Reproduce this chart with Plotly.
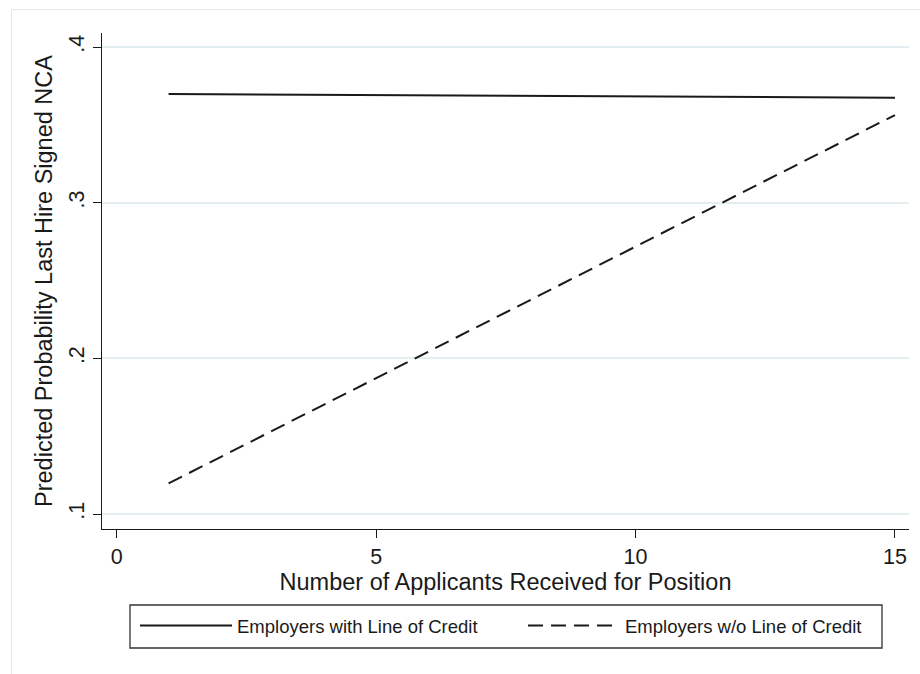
import plotly.graph_objects as go

# Predicted probabilities from the model at the ends of the applicant range
applicants = [1, 15]
with_credit = [0.3698, 0.3674]
without_credit = [0.1197, 0.3563]

series_names = ["Employers with Line of Credit", "Employers w/o Line of Credit"]

x_ticks = [0, 5, 10, 15]
x_tick_text = ["0", "5", "10", "15"]
y_ticks = [0.1, 0.2, 0.3, 0.4]
y_tick_text = [".1", ".2", ".3", ".4"]

FONT = "Liberation Sans, Arial, sans-serif"
INK = "#1a1a1a"
GRID = "#e4edf0"

W, H = 920, 674
ML, MR, MT, MB = 102, 11, 33, 145
PW, PH = W - ML - MR, H - MT - MB


def px(x):
    return (x - ML) / PW


def py(y):
    return (H - MB - y) / PH


fig = go.Figure()
fig.add_trace(go.Scatter(
    x=applicants, y=with_credit, mode="lines", name=series_names[0],
    line=dict(color=INK, width=2),
))
fig.add_trace(go.Scatter(
    x=applicants, y=without_credit, mode="lines", name=series_names[1],
    line=dict(color=INK, width=2, dash="15px,8px"),
))

fig.update_layout(
    width=W, height=H,
    margin=dict(l=ML, r=MR, t=MT, b=MB, autoexpand=False),
    paper_bgcolor="white", plot_bgcolor="white",
    font=dict(family=FONT, color=INK),
    showlegend=True,
    legend=dict(
        orientation="h",
        x=px(135), xanchor="left",
        y=py(626), yanchor="middle",
        entrywidth=281, entrywidthmode="pixels",
        itemwidth=92,
        font=dict(size=18.5, family=FONT, color=INK),
        bgcolor="rgba(0,0,0,0)",
        borderwidth=0,
    ),
    shapes=[
        # outer graph region frame
        dict(type="rect", xref="paper", yref="paper",
             x0=px(11.5), x1=px(930), y0=py(690), y1=py(9.5),
             line=dict(color="#e2eaed", width=1), layer="below"),
        # legend box
        dict(type="rect", xref="paper", yref="paper",
             x0=px(130), x1=px(882), y0=py(648), y1=py(605),
             line=dict(color="#333333", width=1.3)),
    ],
)

fig.update_xaxes(
    range=[-0.283, 15.27],
    tickvals=x_ticks, ticktext=x_tick_text,
    ticks="outside", ticklen=8, tickwidth=1.3, tickcolor=INK,
    showline=True, linecolor=INK, linewidth=1.3,
    showgrid=False, zeroline=False,
    tickfont=dict(size=21.5, family=FONT, color=INK),
    title=dict(text="Number of Applicants Received for Position",
               font=dict(size=23.5, family=FONT, color=INK), standoff=1),
)
fig.update_yaxes(
    range=[0.0904, 0.409],
    tickvals=y_ticks, ticktext=y_tick_text, tickangle=-90,
    ticks="outside", ticklen=8, tickwidth=1.3, tickcolor=INK,
    showline=True, linecolor=INK, linewidth=1.3,
    showgrid=True, gridcolor=GRID, gridwidth=1.5,
    zeroline=False,
    tickfont=dict(size=21.5, family=FONT, color=INK),
    title=dict(text="Predicted Probability Last Hire Signed NCA",
               font=dict(size=23.5, family=FONT, color=INK), standoff=6),
)

fig.write_html("out.html")
